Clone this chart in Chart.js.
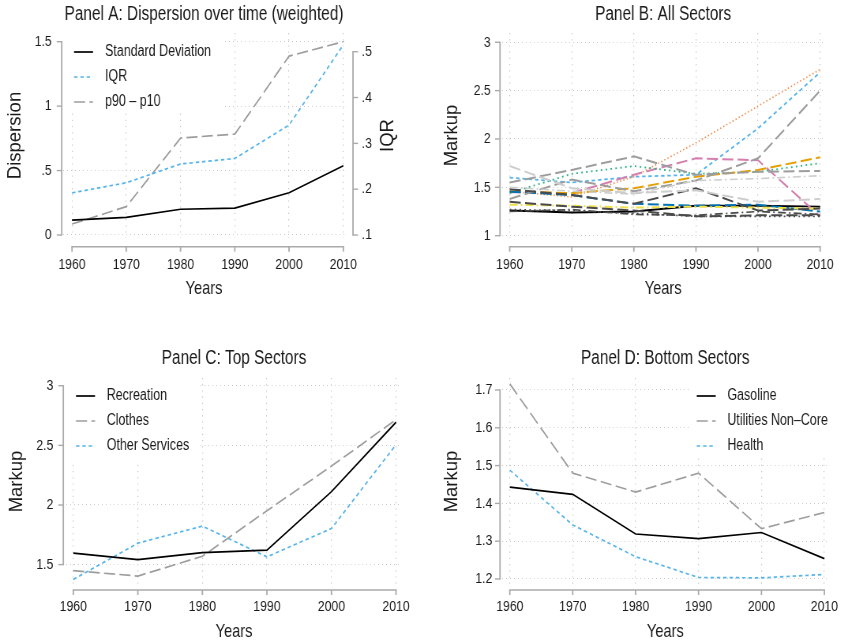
<!DOCTYPE html>
<html>
<head>
<meta charset="utf-8">
<script src="https://cdn.jsdelivr.net/npm/chart.js@4.4.1/dist/chart.umd.min.js"></script>
<style>
  html, body { margin: 0; padding: 0; background: #ffffff; }
  #wrap { position: relative; width: 848px; height: 641px; overflow: hidden; background: #ffffff; }
  /* each panel is drawn wide and then compressed horizontally */
  .panel { position: absolute; width: 537px; transform: scaleX(0.789572); transform-origin: 0 0; }
</style>
</head>
<body>
<div id="wrap">
  <div class="panel" style="left:0;top:0;height:320px"><canvas id="panelA" width="537" height="320"></canvas></div>
  <div class="panel" style="left:424px;top:0;height:320px"><canvas id="panelB" width="537" height="320"></canvas></div>
  <div class="panel" style="left:0;top:320px;height:330px"><canvas id="panelC" width="537" height="330"></canvas></div>
  <div class="panel" style="left:424px;top:320px;height:330px"><canvas id="panelD" width="537" height="330"></canvas></div>
</div>
<script>
// ---------- data ----------
const YEARS = [1960, 1970, 1980, 1990, 2000, 2010];

// Panel A: dispersion of markups (weighted)
const stdDeviation = [0.116, 0.137, 0.200, 0.209, 0.328, 0.537];
const iqr          = [0.192, 0.214, 0.255, 0.267, 0.340, 0.515];
const p90p10       = [0.085, 0.220, 0.752, 0.783, 1.388, 1.500];
const dispersionTicks = [0, 0.5, 1, 1.5];
const iqrTicks        = [0.1, 0.2, 0.3, 0.4, 0.5];

// Panel B: markup of every sector
const sector01 = [1.26, 1.24, 1.25, 1.31, 1.31, 1.30];
const sector02 = [1.55, 1.68, 1.82, 1.63, 1.66, 1.67];
const sector03 = [1.60, 1.55, 1.61, 1.63, 2.11, 2.69];
const sector04 = [1.46, 1.40, 1.61, 1.96, 2.34, 2.72];
const sector05 = [1.45, 1.44, 1.63, 1.80, 1.78, 1.20];
const sector06 = [1.44, 1.64, 1.72, 1.64, 1.66, 1.75];
const sector07 = [1.46, 1.44, 1.49, 1.61, 1.68, 1.81];
const sector08 = [1.32, 1.31, 1.29, 1.30, 1.29, 1.28];
const sector09 = [1.455, 1.42, 1.33, 1.31, 1.32, 1.25];
const sector10 = [1.72, 1.49, 1.44, 1.47, 1.35, 1.38];
const sector11 = [1.38, 1.58, 1.46, 1.57, 1.80, 2.50];
const sector12 = [1.48, 1.42, 1.33, 1.49, 1.26, 1.28];
const sector13 = [1.35, 1.30, 1.26, 1.20, 1.21, 1.21];
const sector14 = [1.25, 1.27, 1.22, 1.21, 1.25, 1.22];
const sector15 = [1.50, 1.46, 1.43, 1.57, 1.59, 1.62];
const sector16 = [1.27, 1.26, 1.23, 1.20, 1.20, 1.20];
const allSectorsTicks = [1, 1.5, 2, 2.5, 3];

// Panel C: top sectors
const recreation    = [1.596, 1.542, 1.601, 1.621, 2.112, 2.694];
const clothes       = [1.449, 1.404, 1.570, 1.952, 2.326, 2.716];
const otherServices = [1.376, 1.680, 1.823, 1.565, 1.803, 2.506];
const topTicks = [1.5, 2, 2.5, 3];

// Panel D: bottom sectors
const gasoline         = [1.443, 1.424, 1.319, 1.307, 1.323, 1.254];
const utilitiesNonCore = [1.716, 1.480, 1.430, 1.480, 1.333, 1.376];
const health           = [1.488, 1.343, 1.259, 1.204, 1.203, 1.212];
const bottomTicks = [1.2, 1.3, 1.4, 1.5, 1.6, 1.7];

// ---------- styling ----------
const SQUEEZE = 424 / 537;           // horizontal compression applied to every panel
const u = x => x / SQUEEZE;          // on-screen x offset -> canvas x offset
const FONT = "'Liberation Sans',Arial,Helvetica,sans-serif";
const INK = '#1a1a1a';
const AXIS_GRAY = '#aaaaaa';
const GRID_GRAY = '#c6c6c6';
const C = {
  black: '#000000', gray: '#9d9d9d', sky: '#56b4e9', orange: '#f08a48',
  pink: '#d47fae', green: '#2fb386', amber: '#e69f00', yellow: '#eee04a',
  sea: '#0072b2', light: '#cdcdcd', dark: '#4a4a4a'
};
const DASH = { solid: [], long: [14, 5.5], short: [4.4, 3.6], dot: [1.5, 2.8], dot2: [2, 4.2],
               dashdot: [10, 4, 2, 4], dash: [9, 5] };

const pts = vals => YEARS.map((yr, i) => ({ x: yr, y: vals[i] }));
const series = (label, vals, color, dash, width, extra) =>
  Object.assign({ label, data: pts(vals), borderColor: color, borderDash: dash, borderWidth: width || 1.6,
    pointRadius: 0, fill: false, tension: 0 }, extra || {});

const stataNum = v => {
  const s = String(Math.round(v * 1000) / 1000);
  return s.replace(/^0\./, '.').replace(/^-0\./, '-.');
};

// vertical text, stretched back so that it shows at its normal proportions
function uprightTitle(ctx, text, x, y) {
  ctx.save();
  ctx.fillStyle = INK; ctx.font = '18.5px ' + FONT;
  ctx.textAlign = 'center'; ctx.textBaseline = 'middle';
  ctx.translate(x, y);
  ctx.scale(1 / SQUEEZE, 1);
  ctx.rotate(-Math.PI / 2);
  ctx.fillText(text, 0, 0);
  ctx.restore();
}

// axis lines drawn only across the labelled range, set apart from the plot region
const stataAxes = {
  id: 'stataAxes',
  afterDraw(chart, args, o) {
    const ctx = chart.ctx, a = chart.chartArea;
    const seg = (x1, y1, x2, y2) => { ctx.beginPath(); ctx.moveTo(x1, y1); ctx.lineTo(x2, y2); ctx.stroke(); };
    ctx.save();
    ctx.strokeStyle = AXIS_GRAY; ctx.setLineDash([]); ctx.lineCap = 'butt';
    const xs = chart.scales.x;
    const px = xs.ticks.map(t => xs.getPixelForValue(t.value));
    const yl = a.bottom + o.xGap;
    ctx.lineWidth = 1.4;
    seg(px[0] - 0.9, yl, px[px.length - 1] + 0.9, yl);
    ctx.lineWidth = 1.8;
    px.forEach(p => seg(p, yl, p, yl + o.tickX));
    ['y', 'y2'].forEach(id => {
      const s = chart.scales[id];
      if (!s) return;
      const right = id === 'y2';
      const xl = right ? a.right + u(o.y2Gap) : a.left - u(o.yGap);
      const py = s.ticks.map(t => s.getPixelForValue(t.value));
      ctx.lineWidth = 1.8;
      seg(xl, Math.min(...py) - 0.7, xl, Math.max(...py) + 0.7);
      ctx.lineWidth = 1.4;
      py.forEach(p => seg(xl, p, xl + (right ? 1 : -1) * u(o.tickY), p));
    });
    ctx.restore();
    const midY = (a.top + a.bottom) / 2;
    uprightTitle(ctx, o.leftTitle.text, u(o.leftTitle.x), midY);
    if (o.rightTitle) uprightTitle(ctx, o.rightTitle.text, u(o.rightTitle.x), midY);
  }
};

// key drawn inside the plot region on a white ground
const stataLegend = {
  id: 'stataLegend',
  beforeDatasetsDraw(chart, args, o) {
    if (!o || !o.rows) return;
    const ctx = chart.ctx;
    ctx.save();
    ctx.fillStyle = '#ffffff';
    ctx.fillRect(u(o.box[0]), o.box[1], u(o.box[2] - o.box[0]), o.box[3] - o.box[1]);
    chart.data.datasets.forEach((ds, i) => {
      const y = o.rows[i];
      ctx.strokeStyle = ds.borderColor; ctx.lineWidth = ds.borderWidth;
      ctx.setLineDash(ds.borderDash || []); ctx.lineCap = 'butt';
      ctx.beginPath(); ctx.moveTo(u(o.x), y); ctx.lineTo(u(o.x + o.w), y); ctx.stroke();
      ctx.setLineDash([]);
      ctx.fillStyle = INK; ctx.font = '15.8px ' + FONT;
      ctx.textAlign = 'left'; ctx.textBaseline = 'middle';
      ctx.fillText(ds.label, u(o.textX), y);
    });
    ctx.restore();
  }
};

function makePanel(id, cfg) {
  const tickFont = { family: FONT, size: 15.5 };
  const scales = {
    x: {
      type: 'linear', min: cfg.xMin, max: cfg.xMax,
      afterBuildTicks: s => { s.ticks = YEARS.map(v => ({ value: v })); },
      afterFit: s => { s.height = cfg.xHeight; },
      grid: { color: GRID_GRAY, lineWidth: 1.2, drawTicks: false },
      border: { display: false, dash: [1.2, 5] },
      ticks: { color: INK, font: tickFont, padding: cfg.xTickPad, maxRotation: 0, autoSkip: false, callback: v => String(v) },
      title: { display: true, text: 'Years', color: INK, font: { family: FONT, size: 18.5 }, padding: { top: 0, bottom: cfg.xTitlePad } }
    },
    y: {
      type: 'linear', position: 'left', min: cfg.yMin, max: cfg.yMax,
      afterBuildTicks: s => { s.ticks = cfg.yTicks.map(v => ({ value: v })); },
      afterFit: s => { s.width = u(cfg.left); },
      grid: { color: GRID_GRAY, lineWidth: 1, drawTicks: false },
      border: { display: false, dash: [1, 4] },
      ticks: { color: INK, font: tickFont, padding: u(cfg.yTickPad), callback: stataNum, autoSkip: false },
      title: { display: false }
    }
  };
  if (cfg.y2) {
    scales.y2 = {
      type: 'linear', position: 'right', min: cfg.y2.min, max: cfg.y2.max,
      afterBuildTicks: s => { s.ticks = cfg.y2.ticks.map(v => ({ value: v })); },
      afterFit: s => { s.width = 537 - u(cfg.right); },
      grid: { display: false, drawTicks: false },
      border: { display: false },
      ticks: { color: INK, font: tickFont, padding: u(cfg.y2.tickPad), callback: stataNum, autoSkip: false }
    };
  }
  cfg.axes.leftTitle = { text: cfg.yTitle, x: cfg.yTitleX };
  return new Chart(document.getElementById(id), {
    type: 'line',
    data: { datasets: cfg.datasets },
    options: {
      responsive: false, animation: false, events: [],
      layout: { padding: { left: 0, right: cfg.y2 ? 0 : 537 - u(cfg.right), top: 0, bottom: 0 } },
      plugins: {
        legend: { display: false },
        tooltip: { enabled: false },
        title: { display: true, text: cfg.title, fullSize: false, color: INK,
          font: { family: FONT, size: 19.5, weight: 'normal' }, padding: cfg.titlePad },
        stataAxes: cfg.axes,
        stataLegend: cfg.legend || {}
      },
      scales
    },
    plugins: [stataAxes, stataLegend]
  });
}

// ---------- panels ----------
makePanel('panelA', {
  title: 'Panel A: Dispersion over time (weighted)',
  titlePad: { top: 2.8, bottom: 6.8 },
  left: 63, right: 345,
  xMin: 1958.34, xMax: 2010.31, xHeight: 82, xTickPad: 17.7, xTitlePad: 20.4,
  yMin: -0.0233, yMax: 1.5675, yTickPad: 11.3, yTitleX: 15.5,
  yTicks: dispersionTicks, yTitle: 'Dispersion',
  y2: { min: 0.0935, max: 0.5408, tickPad: 16.7, ticks: iqrTicks },
  axes: { xGap: 8.7, yGap: 1.3, y2Gap: 8, tickX: 5, tickY: 5, rightTitle: { text: 'IQR', x: 388.5 } },
  legend: { x: 74, w: 19, textX: 105, rows: [52, 77, 102], box: [63, 33, 223, 113] },
  datasets: [
    series('Standard Deviation', stdDeviation, C.black, DASH.solid, 1.7),
    series('IQR', iqr, C.sky, DASH.short, 1.7, { yAxisID: 'y2' }),
    series('p90 \u2013 p10', p90p10, C.gray, DASH.long, 1.7)
  ]
});

makePanel('panelB', {
  title: 'Panel B: All Sectors',
  titlePad: { top: 2.8, bottom: 6.8 },
  left: 78, right: 413,
  xMin: 1958.76, xMax: 2010.67, xHeight: 82, xTickPad: 17.7, xTitlePad: 20.4,
  yMin: 0.976, yMax: 3.096, yTickPad: 11.3, yTitleX: 28.3,
  yTicks: allSectorsTicks, yTitle: 'Markup',
  axes: { xGap: 8.7, yGap: 2, tickX: 5, tickY: 5 },
  datasets: [
    series('s15', sector15, C.light, DASH.dashdot, 1.6),
    series('s10', sector10, C.light, DASH.long, 2),
    series('s16', sector16, C.dark, DASH.dot2, 1.7),
    series('s14', sector14, C.dark, DASH.dashdot, 1.7),
    series('s13', sector13, C.dark, DASH.long, 2),
    series('s12', sector12, C.dark, DASH.long, 2),
    series('s11', sector11, C.gray, DASH.long, 2),
    series('s02', sector02, C.gray, DASH.long, 2),
    series('s08', sector08, C.yellow, DASH.dashdot, 2),
    series('s09', sector09, C.sea, DASH.long, 2),
    series('s07', sector07, C.amber, DASH.long, 2),
    series('s06', sector06, C.green, DASH.dot2, 1.8),
    series('s05', sector05, C.pink, DASH.long, 2),
    series('s04', sector04, C.orange, DASH.dot, 1.6),
    series('s03', sector03, C.sky, DASH.short, 1.8),
    series('s01', sector01, C.black, DASH.solid, 1.9)
  ]
});

makePanel('panelC', {
  title: 'Panel C: Top Sectors',
  titlePad: { top: 27.3, bottom: 7.3 },
  left: 66, right: 402,
  xMin: 1958.87, xMax: 2010.93, xHeight: 65, xTickPad: 12.4, xTitlePad: 7.2,
  yMin: 1.329, yMax: 3.065, yTickPad: 12.7, yTitleX: 16.7,
  yTicks: topTicks, yTitle: 'Markup',
  axes: { xGap: 5, yGap: 2.7, tickX: 5, tickY: 5 },
  legend: { x: 76, w: 19, textX: 106.7, rows: [76, 101, 126], box: [66, 58, 200, 140] },
  datasets: [
    series('Recreation', recreation, C.black, DASH.solid, 1.7),
    series('Clothes', clothes, C.gray, DASH.long, 1.7),
    series('Other Services', otherServices, C.sky, DASH.short, 1.7)
  ]
});

makePanel('panelD', {
  title: 'Panel D: Bottom Sectors',
  titlePad: { top: 27.3, bottom: 7.3 },
  left: 78, right: 413,
  xMin: 1958.76, xMax: 2010.67, xHeight: 65, xTickPad: 12.4, xTitlePad: 7.2,
  yMin: 1.1841, yMax: 1.7317, yTickPad: 9.7, yTitleX: 28.3,
  yTicks: bottomTicks, yTitle: 'Markup',
  axes: { xGap: 5, yGap: 2, tickX: 5, tickY: 5 },
  legend: { x: 272.7, w: 19, textX: 303.3, rows: [76, 101, 126], box: [266, 58, 413, 137] },
  datasets: [
    series('Gasoline', gasoline, C.black, DASH.solid, 1.7),
    series('Utilities Non\u2013Core', utilitiesNonCore, C.gray, DASH.long, 1.7),
    series('Health', health, C.sky, DASH.short, 1.7)
  ]
});
</script>
</body>
</html>
